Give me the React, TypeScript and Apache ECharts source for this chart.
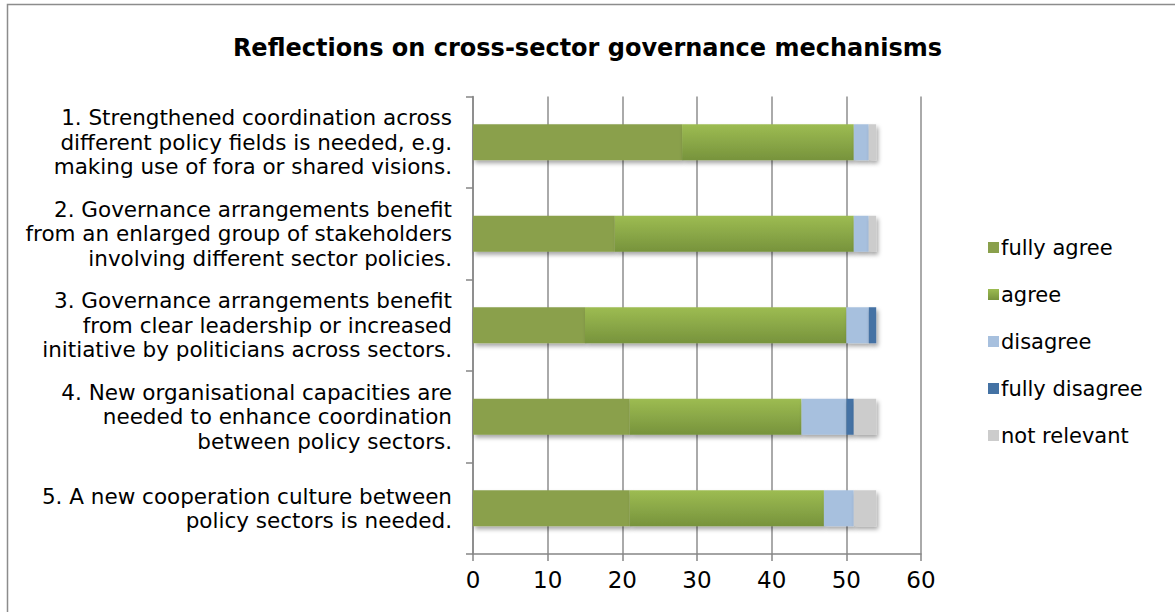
import React, { useEffect, useRef } from "react";
import * as echarts from "echarts";

const categories = [
  "1. Strengthened coordination across\ndifferent policy fields is needed, e.g.\nmaking use of fora or shared visions.",
  "2. Governance arrangements benefit\nfrom an enlarged group of stakeholders\ninvolving different sector policies.",
  "3. Governance arrangements benefit\nfrom clear leadership or increased\ninitiative by politicians across sectors.",
  "4. New organisational capacities are\nneeded to enhance coordination\nbetween policy sectors.",
  "5. A new cooperation culture between\npolicy sectors is needed.",
];
const fullyAgree = [28, 19, 15, 21, 21];
const agree = [23, 32, 35, 23, 26];
const disagree = [2, 2, 3, 6, 4];
const fullyDisagree = [0, 0, 1, 1, 0];
const notRelevant = [1, 1, 0, 3, 3];
const xTicks = [0, 10, 20, 30, 40, 50, 60];

const FONT = "'DejaVu Sans', Verdana, sans-serif";

export default function App() {
  const ref = useRef<HTMLDivElement>(null);
  useEffect(() => {
    if (!ref.current) return;
    const chart = echarts.init(ref.current, undefined, { renderer: "svg" });
    const shadow = {
      shadowColor: "rgba(0,0,0,0.35)",
      shadowBlur: 4,
      shadowOffsetX: 2,
      shadowOffsetY: 3,
    };
    const mk = (name: string, data: number[], color: any) => ({
      name,
      type: "bar",
      stack: "total",
      barWidth: 36,
      data,
      itemStyle: { color, ...shadow },
      emphasis: { disabled: true },
    });
    chart.setOption({
      animation: false,
      backgroundColor: "#ffffff",
      textStyle: { fontFamily: FONT },
      title: {
        text: "Reflections on cross-sector governance mechanisms",
        left: "center",
        top: 31,
        textStyle: { fontFamily: FONT, fontSize: 24, fontWeight: "bold", color: "#000" },
      },
      graphic: [
        {
          type: "rect",
          shape: { x: 7.5, y: 4.5, width: 1200, height: 650 },
          style: { fill: "none", stroke: "#8c8c8c", lineWidth: 1.5 },
          silent: true,
        },
      ],
      legend: {
        orient: "vertical",
        left: 983,
        top: 232,
        itemWidth: 11,
        itemHeight: 11,
        itemGap: 26,
        icon: "rect",
        textStyle: { fontFamily: FONT, fontSize: 21, color: "#000", padding: [0, 0, 0, -3] },
        data: ["fully agree", "agree", "disagree", "fully disagree", "not relevant"],
      },
      grid: { left: 473, right: 254, top: 96.5, bottom: 58, containLabel: false },
      xAxis: {
        type: "value",
        min: 0,
        max: 60,
        interval: 10,
        axisLine: { show: true, lineStyle: { color: "#868686", width: 1.5 } },
        axisTick: { show: true, length: 7, lineStyle: { color: "#868686", width: 1.5 } },
        splitLine: { show: true, lineStyle: { color: "#8e8e8e", width: 1.5 } },
        axisLabel: {
          margin: 14,
          fontFamily: FONT,
          fontSize: 23,
          color: "#000",
          formatter: (v: number) => (xTicks.includes(v) ? String(v) : ""),
        },
      },
      yAxis: {
        type: "category",
        inverse: true,
        data: categories,
        axisLine: { show: true, lineStyle: { color: "#868686", width: 1.5 } },
        axisTick: { show: true, length: 7, lineStyle: { color: "#868686", width: 1.5 } },
        axisLabel: {
          margin: 21,
          fontFamily: FONT,
          fontSize: 21.5,
          lineHeight: 24.5,
          color: "#000",
          align: "right",
        },
      },
      series: [
        mk("fully agree", fullyAgree, "#8AA04C"),
        mk(
          "agree",
          agree,
          new echarts.graphic.LinearGradient(0, 0, 0, 1, [
            { offset: 0, color: "#9DBC52" },
            { offset: 1, color: "#77933C" },
          ])
        ),
        mk("disagree", disagree, "#A7C0DE"),
        mk("fully disagree", fullyDisagree, "#4472A4"),
        mk("not relevant", notRelevant, "#CCCCCC"),
      ],
    });
    return () => chart.dispose();
  }, []);
  return (
    <div
      ref={ref}
      style={{ position: "absolute", left: 0, top: 0, width: 1175, height: 612 }}
    />
  );
}
